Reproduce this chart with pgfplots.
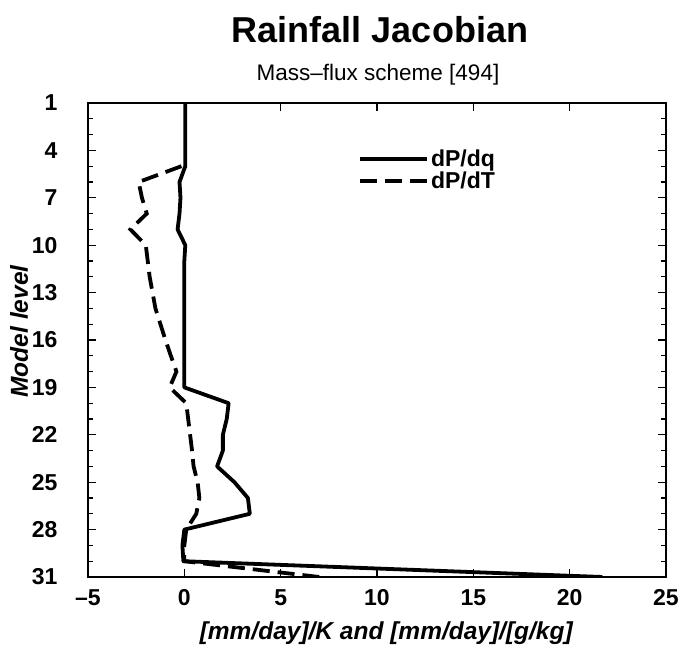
\documentclass[border=0pt]{standalone}
\usepackage{fontspec}
\setmainfont{Liberation Sans}
\usepackage{pgfplots}
\pgfplotsset{compat=1.18}
\begin{document}
\begin{tikzpicture}
\useasboundingbox (-88pt,-70pt) rectangle (590pt,577pt);
\begin{axis}[
  at={(0pt,0pt)}, anchor=south west,
  scale only axis, width=578pt, height=474pt,
  xmin=-5, xmax=25, ymin=1, ymax=31,
  y dir=reverse,
  xtick={-5,0,5,10,15,20,25},
  xticklabels={--5,0,5,10,15,20,25},
  ytick={1,4,7,10,13,16,19,22,25,28,31},
  minor ytick={1,...,31},
  tick align=inside,
  major tick length=8pt, minor tick length=5pt,
  every tick/.style={black, line width=1.2pt},
  axis line style={line width=1.5pt},
  /pgf/number format/assume math mode=true,
  ticklabel style={font=\bfseries\fontsize{23}{27}\selectfont},
  xticklabel style={yshift=-9pt},
  yticklabel style={xshift=-27pt},
  xlabel={\bfseries\itshape [mm/day]/K and [mm/day]/[g/kg]},
  ylabel={\bfseries\itshape Model level},
  label style={font=\fontsize{24.5}{28}\selectfont},
  xlabel style={at={(axis description cs:0.516,-0.118)}, anchor=center},
  ylabel style={at={(axis description cs:-0.119,0.518)}, anchor=center},
  legend style={draw=none, fill=none, at={(0.462,0.91)}, anchor=north west,
    font=\bfseries\fontsize{23}{27}\selectfont, row sep=0pt},
  legend cell align=left,
  legend image code/.code={\draw[#1] (0pt,0pt) -- (58pt,0pt); \path (0pt,0pt) -- (67pt,0pt);},
]
\addplot[black, line width=3.8pt, line join=round] coordinates {
(0.05,1) (0.05,2) (0.05,3) (0.05,4) (0.05,5) (-0.25,6) (-0.2,7) (-0.25,8) (-0.35,9) (0.05,10)
(0,11) (0,12) (0,13) (0,14) (0,15) (0,16) (0,17) (0,18) (0,19)
(2.3,20) (2.2,21) (2.0,22) (2.0,23) (1.7,24) (2.6,25) (3.3,26) (3.4,27)
(0,28) (-0.1,29) (-0.05,30) (21.7,31)
};
\addlegendentry{dP/dq}
\addplot[black, line width=3.8pt, dash pattern=on 17pt off 8pt] coordinates {
(-0.15,5) (-2.37,6) (-2.2,7) (-1.95,8) (-2.8,9) (-2.0,10) (-1.9,11) (-1.8,12) (-1.65,13)
(-1.5,14) (-1.24,15) (-0.98,16) (-0.7,17) (-0.41,18) (-0.76,19) (0.1,20) (0.2,21)
(0.3,22) (0.4,23) (0.48,24) (0.69,25) (0.78,26) (0.62,27) (0.1,28) (0,29) (0,30) (7.0,31)
};
\addlegendentry{dP/dT}
\end{axis}
\node[font=\bfseries\fontsize{36}{42}\selectfont] at (292pt,547pt) {Rainfall Jacobian};
\node[font=\fontsize{22.5}{27}\selectfont] at (290pt,502pt) {Mass--flux scheme [494]};
\end{tikzpicture}
\end{document}
